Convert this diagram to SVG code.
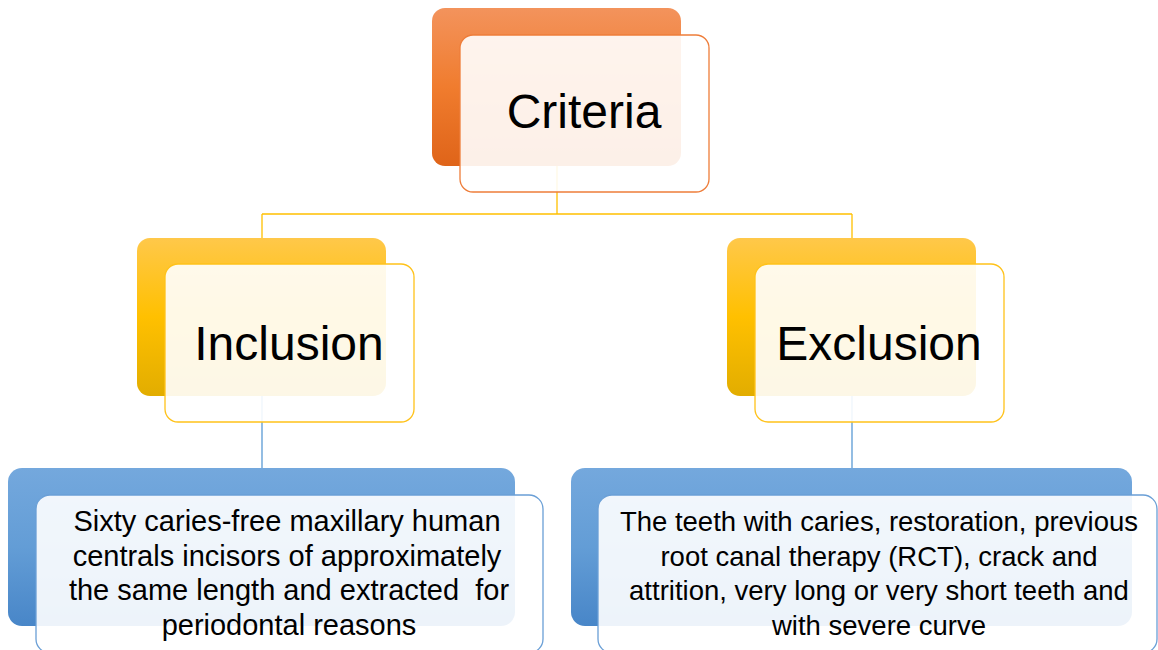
<svg xmlns="http://www.w3.org/2000/svg" width="1158" height="650" viewBox="0 0 1158 650">
  <defs>
    <linearGradient id="gOrange" x1="0" y1="0" x2="0" y2="1">
      <stop offset="0" stop-color="#f3935c"/>
      <stop offset="0.5" stop-color="#f07c2e"/>
      <stop offset="1" stop-color="#df6419"/>
    </linearGradient>
    <linearGradient id="gGold" x1="0" y1="0" x2="0" y2="1">
      <stop offset="0" stop-color="#ffc84a"/>
      <stop offset="0.5" stop-color="#ffc000"/>
      <stop offset="1" stop-color="#e2ad00"/>
    </linearGradient>
    <linearGradient id="gBlue" x1="0" y1="0" x2="0" y2="1">
      <stop offset="0" stop-color="#74a8dd"/>
      <stop offset="0.5" stop-color="#639dd6"/>
      <stop offset="1" stop-color="#4886c8"/>
    </linearGradient>
    <style>
      .front { fill: #ffffff; fill-opacity: 0.9; stroke-width: 1.3; }
      .f-orange { stroke: #ee7d3a; }
      .f-gold { stroke: #ffc21a; }
      .f-blue { stroke: #6a9fd6; }
      .title { font-family: "Liberation Sans", Arial, sans-serif; font-size: 48px; fill: #000; text-anchor: middle; }
      .body { font-family: "Liberation Sans", Arial, sans-serif; fill: #000; text-anchor: middle; white-space: pre; }
      .body-l { font-size: 29px; }
      .body-r { font-size: 27.5px; }
      .conn-gold { stroke: #ffc000; stroke-width: 1.3; fill: none; }
      .conn-blue { stroke: #5b9bd5; stroke-width: 1.3; fill: none; }
    </style>
  </defs>

  <rect width="1158" height="650" fill="#ffffff"/>

  <!-- connectors -->
  <g id="connectors">
    <path class="conn-gold" d="M557 160 V214 M262 214 H852 M262 214 V264 M852 214 V264"/>
    <path class="conn-blue" d="M262 396 V468 M852 396 V468"/>
  </g>

  <g id="criteria">
    <rect x="432" y="8" width="249" height="158" rx="13" fill="url(#gOrange)"/>
    <rect class="front f-orange" x="460" y="35" width="249" height="157" rx="13"/>
    <text class="title" x="584" y="128">Criteria</text>
  </g>

  <g id="inclusion">
    <rect x="137" y="238" width="249" height="158" rx="13" fill="url(#gGold)"/>
    <rect class="front f-gold" x="165" y="264" width="249" height="158" rx="13"/>
    <text class="title" x="289" y="360">Inclusion</text>
  </g>

  <g id="exclusion">
    <rect x="727" y="238" width="249" height="158" rx="13" fill="url(#gGold)"/>
    <rect class="front f-gold" x="755" y="264" width="249" height="158" rx="13"/>
    <text class="title" x="879" y="360">Exclusion</text>
  </g>

  <g id="inclusion-detail">
    <rect x="8" y="468" width="507" height="158" rx="14" fill="url(#gBlue)"/>
    <rect class="front f-blue" x="36" y="495" width="507" height="158" rx="14"/>
    <text class="body body-l" x="287" y="531">Sixty caries-free maxillary human</text>
    <text class="body body-l" x="287" y="566">centrals incisors of approximately</text>
    <text class="body body-l" x="289" y="600" xml:space="preserve">the same length and extracted  for</text>
    <text class="body body-l" x="289" y="635">periodontal reasons</text>
  </g>

  <g id="exclusion-detail">
    <rect x="571" y="468" width="561" height="158" rx="14" fill="url(#gBlue)"/>
    <rect class="front f-blue" x="598" y="495" width="559" height="158" rx="14"/>
    <text class="body body-r" x="879" y="531">The teeth with caries, restoration, previous</text>
    <text class="body body-r" x="879" y="566">root canal therapy (RCT), crack and</text>
    <text class="body body-r" x="879" y="600">attrition, very long or very short teeth and</text>
    <text class="body body-r" x="879" y="635">with severe curve</text>
  </g>
</svg>
